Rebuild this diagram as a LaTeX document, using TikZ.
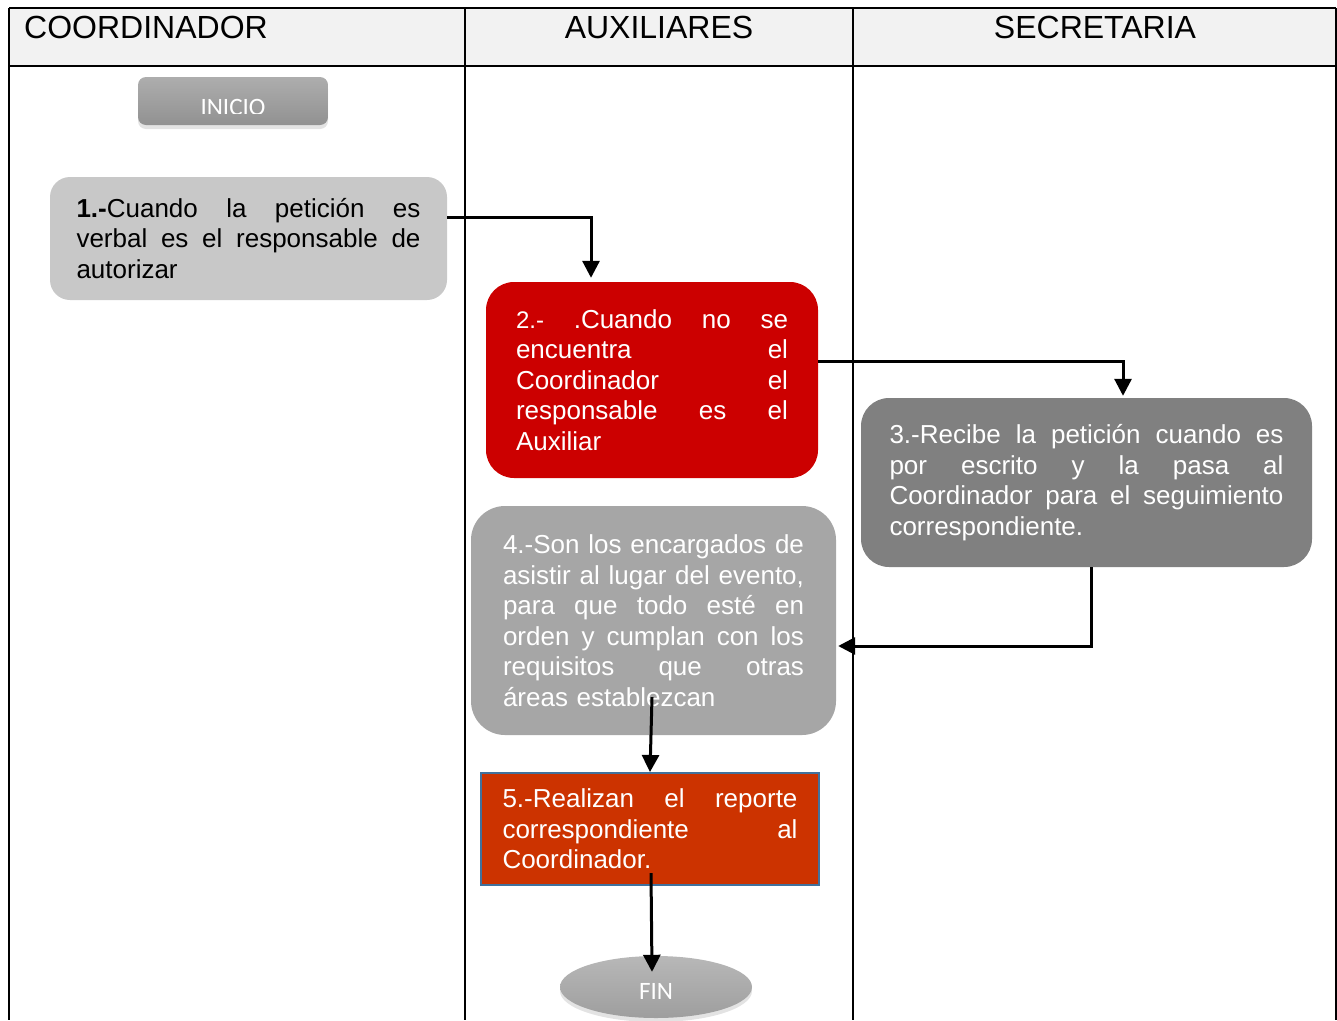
\documentclass[tikz,border=0pt]{standalone}
\usepackage{fontspec}
\setmainfont{Liberation Sans}
\newfontfamily\calibrifont{Carlito}
\usetikzlibrary{arrows.meta,shadows,calc,shapes.geometric}
\definecolor{hdr}{HTML}{F2F2F2}
\definecolor{cone}{HTML}{C8C8C8}
\definecolor{ctwo}{HTML}{CC0000}
\definecolor{cthree}{HTML}{808080}
\definecolor{cfour}{HTML}{A6A6A6}
\definecolor{cfive}{HTML}{CC3300}
\definecolor{cfiveb}{HTML}{41719C}
\begin{document}
\begin{tikzpicture}[x=1pt,y=-1pt,
  gridline/.style={line width=2pt, black},
  hdrtext/.style={inner sep=0pt, font=\fontsize{32}{36}\selectfont},
  box/.style={inner sep=0pt, text=white, align=left, font=\fontsize{26}{30.5}\selectfont},
  arr/.style={line width=3pt, -{Triangle[length=17pt,width=17pt]}},
  termbox/.style={drop shadow={shadow xshift=0pt, shadow yshift=-4pt, opacity=.22}}
]
\useasboundingbox (0,0) rectangle (1337,1020);
% table
\fill[hdr] (9,8) rectangle (1336,66);
\draw[gridline] (9,8) -- (1336,8);
\draw[gridline] (9,66) -- (1336,66);
\draw[gridline] (9,8) -- (9,1020);
\draw[gridline] (465,8) -- (465,1020);
\draw[gridline] (853,8) -- (853,1020);
\draw[gridline] (1336,8) -- (1336,1020);
\node[hdrtext, anchor=base west] (h1) at (24,38) {COORDINADOR};
\node[hdrtext, anchor=base] (h2) at (659,38) {AUXILIARES};
\node[hdrtext, anchor=base] (h3) at (1095,38) {SECRETARIA};
% INICIO
\node[termbox, draw=none, rounded corners=8pt, top color=black!32, bottom color=black!43,
  minimum width=190pt, minimum height=48pt, inner sep=0pt] (ini) at (233,101) {};
\begin{scope}
  \clip (138,77) rectangle (328,113);
  \node[inner sep=0pt, anchor=base, text=white, font=\calibrifont\fontsize{25}{30}\selectfont] (initxt) at (233,115) {INICIO};
\end{scope}
% boxes
\node[box, text=black, fill=cone, rounded corners=20pt, minimum width=397pt, minimum height=123pt, text width=344pt] (b1) at (248.5,238.5)
 {\textbf{1.-}Cuando\hfill la\hfill petición\hfill es\\
  verbal\hfill es\hfill el\hfill responsable\hfill de\\
  autorizar};
\node[box, fill=ctwo, rounded corners=28pt, minimum width=332pt, minimum height=196pt, text width=272pt] (b2) at (652,380)
 {{\fontsize{24}{28}\selectfont 2.-}\hfill .Cuando\hfill no\hfill se\\
  encuentra\hfill el\\
  Coordinador\hfill el\\
  responsable\hfill es\hfill el\\
  Auxiliar};
\node[box, fill=cthree, rounded corners=28pt, minimum width=451pt, minimum height=169pt, text width=394pt] (b3) at (1086.5,482.5)
 {3.-Recibe\hfill la\hfill petición\hfill cuando\hfill es\\
  por\hfill escrito\hfill y\hfill la\hfill pasa\hfill al\\
  Coordinador\hfill para\hfill el\hfill seguimiento\\
  correspondiente.};
\node[box, fill=cfour, rounded corners=34pt, minimum width=365pt, minimum height=229pt, text width=301pt] (b4) at (653.5,620.5)
 {4.-Son\hfill los\hfill encargados\hfill de\\
  asistir\hfill al\hfill lugar\hfill del\hfill evento,\\
  para\hfill que\hfill todo\hfill esté\hfill en\\
  orden\hfill y\hfill cumplan\hfill con\hfill los\\
  requisitos\hfill que\hfill otras\\
  áreas establezcan};
\node[box, fill=cfive, draw=cfiveb, line width=2pt, minimum width=338pt, minimum height=112pt, text width=295pt] (b5) at (650,829)
 {5.-Realizan\hfill el\hfill reporte\\
  correspondiente\hfill al\\
  Coordinador.};
% FIN
\node[termbox, ellipse, draw=none, top color=black!28, bottom color=black!38,
  minimum width=192pt, minimum height=62pt, inner sep=0pt, text=white,
  font=\calibrifont\fontsize{25}{30}\selectfont] (fin) at (656,987) {\raisebox{-12pt}[0pt][0pt]{FIN}};
% connectors
\draw[arr] ($(b1.east)+(0,-21.5)$) -| ($(b2.north)+(-61,-4)$);
\draw[arr] ($(b2.east)+(0,-19)$) -| ($(b3.north)+(36.5,-2)$);
\draw[arr] ($(b3.south)+(4.5,0)$) |- ($(b4.east)+(2,25.5)$);
\draw[arr] ($(b4.south)+(-1.5,-38)$) -- (b5.north);
\draw[arr] ($(b5.south)+(1,-13)$) -- ($(fin.north)+(-4,16)$);
\end{tikzpicture}
\end{document}
